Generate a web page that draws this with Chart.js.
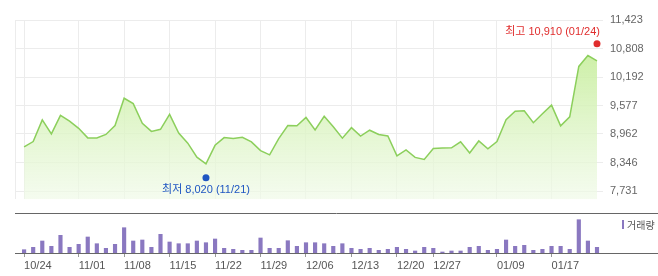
<!DOCTYPE html>
<html>
<head>
<meta charset="utf-8">
<script src="https://cdn.jsdelivr.net/npm/chart.js@4"></script>
<style>
body{margin:0;background:#fff;width:658px;height:276px;overflow:hidden;position:relative}
#priceChart{position:absolute;left:0;top:0}
#volChart{position:absolute;left:0;top:213px}
</style>
</head>
<body>
<canvas id="priceChart" width="658" height="213"></canvas>
<canvas id="volChart" width="658" height="63"></canvas>
<script>
const dates = ['10/24','10/25','10/26','10/27','10/28','10/31','11/01','11/02','11/03','11/04',
  '11/07','11/08','11/09','11/10','11/11','11/14','11/15','11/16','11/17','11/18',
  '11/21','11/22','11/23','11/24','11/25','11/28','11/29','11/30','12/01','12/02',
  '12/05','12/06','12/07','12/08','12/09','12/12','12/13','12/14','12/15','12/16',
  '12/19','12/20','12/21','12/22','12/23','12/27','12/28','12/29','01/03','01/04',
  '01/05','01/06','01/09','01/10','01/11','01/12','01/13','01/16','01/17','01/18',
  '01/19','01/20','01/23','01/24'];
const tickDates = ['10/24','11/01','11/08','11/15','11/22','11/29','12/06','12/13','12/20','12/27','01/09','01/17'];
const prices = [8683,8798,9265,8964,9365,9239,9084,8878,8878,8952,
  9144,9734,9619,9193,9018,9064,9385,8984,8764,8463,
  8317,8718,8884,8864,8892,8792,8603,8511,8864,9144,
  9138,9319,9052,9345,9118,8872,9098,8918,9044,8952,
  8918,8491,8617,8457,8411,8651,8657,8663,8792,8551,
  8812,8643,8798,9273,9453,9465,9205,9399,9585,9138,
  9333,10421,10655,10541];
const volumes = [33,57,120,67,177,57,87,160,93,47,
  87,253,120,130,57,187,110,93,93,120,
  103,140,47,37,27,27,150,47,47,123,
  67,103,103,93,67,93,47,37,47,27,
  37,57,37,20,57,47,10,20,20,57,
  67,27,37,130,67,77,27,37,67,67,
  37,333,120,57];
const priceTicks = [7731,8346,8962,9577,10192,10808,11423];
const highPoint = {date:'01/24', value:10910};
const lowPoint = {date:'11/21', value:8020};

const tickIdx = tickDates.map(d => dates.indexOf(d));
const fontStack = '"Liberation Sans", "Noto Sans CJK KR", sans-serif';

// 최고 / 최저 표시
const markerPlugin = {
  id: 'markers',
  afterDatasetsDraw(chart) {
    const ctx = chart.ctx, xs = chart.scales.x, ys = chart.scales.y;
    const hx = xs.getPixelForValue(dates.indexOf(highPoint.date));
    const hy = ys.getPixelForValue(highPoint.value);
    const lx = xs.getPixelForValue(dates.indexOf(lowPoint.date));
    const ly = ys.getPixelForValue(lowPoint.value);
    ctx.save();
    ctx.font = '11px ' + fontStack;
    ctx.textBaseline = 'middle';
    ctx.fillStyle = '#e02d2d';
    ctx.beginPath(); ctx.arc(hx, hy, 3.5, 0, Math.PI * 2); ctx.fill();
    ctx.textAlign = 'right';
    ctx.fillText('최고 ' + highPoint.value.toLocaleString('en-US') + ' (' + highPoint.date + ')', hx + 3, hy - 12);
    ctx.fillStyle = '#1f56c2';
    ctx.beginPath(); ctx.arc(lx, ly, 3.5, 0, Math.PI * 2); ctx.fill();
    ctx.textAlign = 'center';
    ctx.fillText('최저 ' + lowPoint.value.toLocaleString('en-US') + ' (' + lowPoint.date + ')', lx, ly + 12);
    ctx.restore();
  }
};

new Chart(document.getElementById('priceChart').getContext('2d'), {
  type: 'line',
  data: {
    datasets: [{
      data: prices.map((v, i) => ({x: i, y: v})),
      borderColor: '#8ccf5c',
      borderWidth: 1.5,
      pointRadius: 0,
      tension: 0,
      fill: 'start',
      backgroundColor: (c) => {
        const a = c.chart.chartArea;
        if (!a) return 'rgba(200,235,160,0.5)';
        const g = c.chart.ctx.createLinearGradient(0, a.top, 0, a.bottom);
        g.addColorStop(0, 'rgba(190,235,140,0.95)');
        g.addColorStop(1, 'rgba(240,250,232,0.7)');
        return g;
      }
    }]
  },
  options: {
    responsive: false,
    animation: false,
    layout: {padding: {top: 20, left: 15, right: 0, bottom: 0}},
    plugins: {legend: {display: false}, tooltip: {enabled: false}},
    scales: {
      x: {
        type: 'linear', min: -1, max: 63.66,
        afterBuildTicks: s => { s.ticks = [-1].concat(tickIdx).map(v => ({value: v})); },
        afterFit: s => { s.height = 0; },
        ticks: {display: false},
        grid: {color: '#ececec', drawTicks: false},
        border: {display: false}
      },
      y: {
        position: 'right', min: 7550, max: 11423,
        afterBuildTicks: s => { s.ticks = priceTicks.map(v => ({value: v})); },
        afterFit: s => { s.width = 55; },
        ticks: {
          padding: 7, color: '#666', font: {size: 11, family: fontStack},
          callback: v => v.toLocaleString('en-US')
        },
        grid: {color: '#ececec', drawTicks: false},
        border: {display: false}
      }
    }
  },
  plugins: [markerPlugin]
});

// 거래량 구분선, 범례
const volPlugin = {
  id: 'volLines',
  afterDraw(chart) {
    const ctx = chart.ctx, a = chart.chartArea, w = chart.width;
    ctx.save();
    ctx.strokeStyle = '#666';
    ctx.lineWidth = 1;
    ctx.beginPath();
    ctx.moveTo(a.left, 0.5); ctx.lineTo(w, 0.5);
    ctx.moveTo(a.left, Math.round(a.bottom) + 0.5); ctx.lineTo(w, Math.round(a.bottom) + 0.5);
    ctx.stroke();
    ctx.fillStyle = '#8a78c0';
    ctx.fillRect(622, 7, 2, 9);
    ctx.fillStyle = '#555';
    ctx.font = '10px "Noto Sans CJK KR", sans-serif';
    ctx.textBaseline = 'middle';
    ctx.fillText('거래량', 627, 12);
    ctx.restore();
  }
};

new Chart(document.getElementById('volChart').getContext('2d'), {
  type: 'bar',
  data: {
    datasets: [{
      data: volumes.map((v, i) => ({x: i, y: v})),
      backgroundColor: '#8a78c0',
      barThickness: 3.5
    }]
  },
  options: {
    responsive: false,
    animation: false,
    layout: {padding: {top: 0, left: 15, right: 55, bottom: 0}},
    plugins: {legend: {display: false}, tooltip: {enabled: false}},
    scales: {
      x: {
        type: 'linear', min: -1, max: 63.66, offset: false,
        afterBuildTicks: s => { s.ticks = tickIdx.map(v => ({value: v})); },
        afterFit: s => { s.height = 23; },
        ticks: {
          align: 'start', autoSkip: false, maxRotation: 0, padding: 2,
          color: '#555', font: {size: 11, family: fontStack},
          callback: v => dates[v]
        },
        grid: {offset: false, drawOnChartArea: false, drawTicks: true, tickLength: 4, color: '#999'},
        border: {display: false}
      },
      y: {display: false, min: 0, max: 400}
    }
  },
  plugins: [volPlugin]
});
</script>
</body>
</html>
